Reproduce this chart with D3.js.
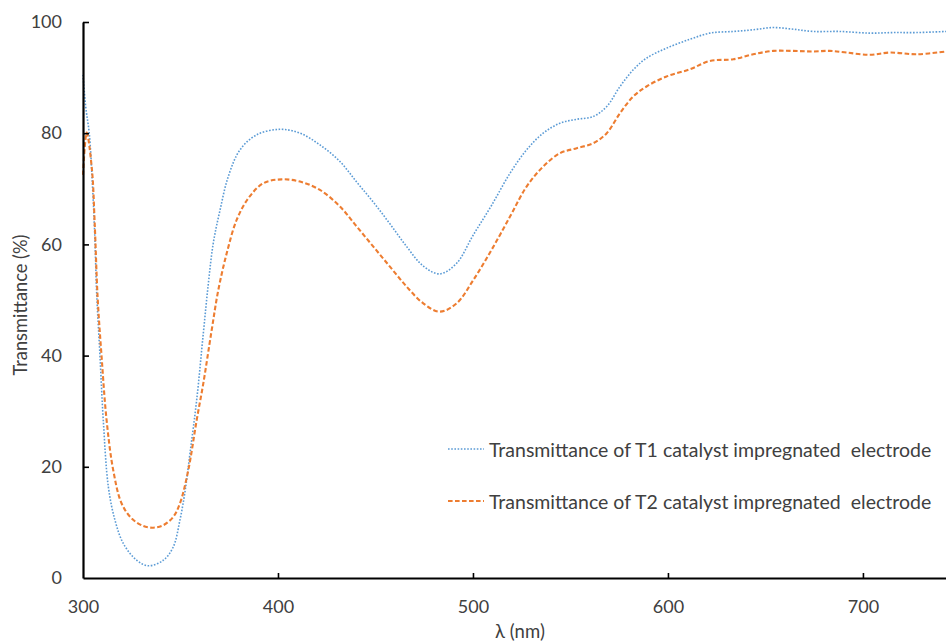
<!DOCTYPE html>
<html>
<head>
<meta charset="utf-8">
<script src="https://cdn.jsdelivr.net/npm/d3@7"></script>
<style>
  html, body { margin: 0; padding: 0; background: #ffffff; }
  svg { display: block; }
  text { font-family: "Lato", "Open Sans", "Liberation Sans", sans-serif; fill: #404040; }
</style>
</head>
<body>
<svg id="chart" width="946" height="642"></svg>
<script>
// UV-Vis transmittance spectra of two catalyst impregnated electrodes
const t1Wavelength = [300, 301.4, 303.2, 304.9, 306, 307, 308.7, 310.4, 313, 316.4, 320.7, 327.5, 333.5, 341.2, 346.3, 349.7, 352.3, 354.9, 358.3, 361.7, 364.3, 366.8, 370.3, 374.5, 380.5, 389, 401, 411.3, 421.5, 431.8, 440.4, 448.9, 457.4, 466, 474.5, 483, 491.6, 500, 509.5, 519, 527.5, 536, 544.6, 553.2, 561.7, 568.6, 575.4, 582.2, 589, 599.3, 611.3, 621.5, 633.5, 643.7, 654, 664.3, 674.5, 688, 703.6, 715.5, 727.5, 742.6];
const t1Values     = [90.5, 84.7, 80, 70.3, 62, 51.3, 40, 28.4, 16.4, 10.4, 6.2, 3.2, 2.2, 3.2, 5.6, 10.4, 15.5, 22.5, 32, 44, 53, 60.2, 66.2, 72.2, 77, 79.7, 80.7, 80, 77.9, 74.9, 71.2, 67.6, 63.7, 59.6, 56.1, 54.7, 56.6, 61.6, 67, 72.8, 77, 80, 81.8, 82.5, 83, 84.8, 88.4, 91.4, 93.5, 95.3, 96.9, 98, 98.3, 98.6, 99, 98.7, 98.3, 98.3, 98, 98.1, 98.1, 98.3];

const t2Wavelength = [300, 301.9, 304.6, 306, 307.5, 309.5, 312.1, 315.5, 319.8, 325, 330.9, 336, 341.2, 346.3, 349.7, 354, 358.3, 361.7, 366, 369.4, 373.7, 378.8, 384.8, 392.5, 401.9, 411.3, 421.5, 431.8, 440.4, 448.9, 457.4, 466, 474.5, 483, 491.6, 500.2, 509.5, 519, 527.5, 536, 544.6, 553.2, 561.7, 568.6, 575.4, 582.2, 589, 599.3, 611.3, 621.5, 633.5, 643.7, 654, 664.3, 674.5, 683, 691.6, 703.6, 713.8, 727.5, 742.6];
const t2Values     = [72.5, 80.1, 73.4, 63.8, 50.5, 40, 28.4, 19.4, 13.4, 10.7, 9.35, 9.05, 9.5, 11, 13.4, 19.4, 28.4, 35, 44.6, 51.8, 58.4, 64.4, 68.3, 71, 71.7, 71.3, 69.8, 66.8, 63.2, 59.6, 56, 52.4, 49.4, 47.9, 49.4, 53.6, 59, 65, 70.4, 74, 76.4, 77.3, 78.2, 80, 83.6, 86.6, 88.4, 90.2, 91.5, 93, 93.3, 94.2, 94.8, 94.8, 94.7, 94.8, 94.5, 94.1, 94.5, 94.2, 94.7];

const xTicks = [300, 400, 500, 600, 700];
const yTicks = [0, 20, 40, 60, 80, 100];
const seriesNames = [
  "Transmittance of T1 catalyst impregnated  electrode",
  "Transmittance of T2 catalyst impregnated  electrode"
];
const xTitle = "λ (nm)";
const yTitle = "Transmittance (%)";

const svg = d3.select("#chart");
const margin = { left: 83, top: 22, bottom: 64 };
const W = 946, H = 642;

const x = d3.scaleLinear().domain([300, 742.6]).range([margin.left, W]);
const y = d3.scaleLinear().domain([0, 100]).range([H - margin.bottom, margin.top]);

const series = [
  { name: seriesNames[0], xs: t1Wavelength, ys: t1Values, color: "#5B9BD5", width: 1.6, dash: "1.6 1.6" },
  { name: seriesNames[1], xs: t2Wavelength, ys: t2Values, color: "#ED7D31", width: 2.1, dash: "4.6 2.4" }
];

const line = d3.line()
  .x(d => x(d[0]))
  .y(d => y(d[1]))
  .curve(d3.curveCatmullRom.alpha(0.5));

svg.append("defs").append("clipPath").attr("id", "plotClip")
  .append("rect").attr("x", margin.left - 2).attr("y", 0).attr("width", W - margin.left + 2).attr("height", H - margin.bottom + 2);

const plot = svg.append("g").attr("clip-path", "url(#plotClip)");
series.forEach(s => {
  const pts = s.xs.map((v, i) => [v, s.ys[i]]);
  plot.append("path")
    .datum(pts)
    .attr("fill", "none")
    .attr("stroke", s.color)
    .attr("stroke-width", s.width)
    .attr("stroke-dasharray", s.dash)
    .attr("d", line);
});

// Axes
const xAxis = svg.append("g")
  .attr("transform", `translate(0,${y(0)})`)
  .call(d3.axisBottom(x).tickValues(xTicks).tickSizeInner(-5).tickSizeOuter(0).tickPadding(22));
const yAxis = svg.append("g")
  .attr("transform", `translate(${x(300)},0)`)
  .call(d3.axisLeft(y).tickValues(yTicks).tickSizeInner(-6).tickSizeOuter(0).tickPadding(21));

[xAxis, yAxis].forEach(g => {
  g.select(".domain").attr("stroke", "#000").attr("stroke-width", 2.2);
  g.selectAll(".tick line").attr("stroke", "#000").attr("stroke-width", 1.6);
  g.selectAll(".tick text").attr("font-size", 18).attr("fill", "#404040")
    .style("font-family", "Lato, 'Open Sans', sans-serif");
});
yAxis.selectAll(".tick").filter(d => d === 0).select("line").remove();
xAxis.selectAll(".tick").filter(d => d === 300).select("line").remove();

// Axis titles
svg.append("text")
  .attr("x", 520).attr("y", 631)
  .attr("text-anchor", "middle").attr("dominant-baseline", "central")
  .attr("font-size", 18.5)
  .text(xTitle);
svg.append("text")
  .attr("transform", `translate(20,305) rotate(-90)`)
  .attr("text-anchor", "middle").attr("dominant-baseline", "central")
  .attr("font-size", 18.3)
  .text(yTitle);

// Legend
const legend = svg.append("g");
series.forEach((s, i) => {
  const ly = 449 + i * 52;
  legend.append("line")
    .attr("x1", 448).attr("x2", 484).attr("y1", ly).attr("y2", ly)
    .attr("stroke", s.color).attr("stroke-width", s.width).attr("stroke-dasharray", s.dash);
  legend.append("text")
    .attr("x", 489).attr("y", ly)
    .attr("dominant-baseline", "central")
    .attr("font-size", 19.5)
    .style("white-space", "pre")
    .text(s.name);
});
</script>
</body>
</html>
